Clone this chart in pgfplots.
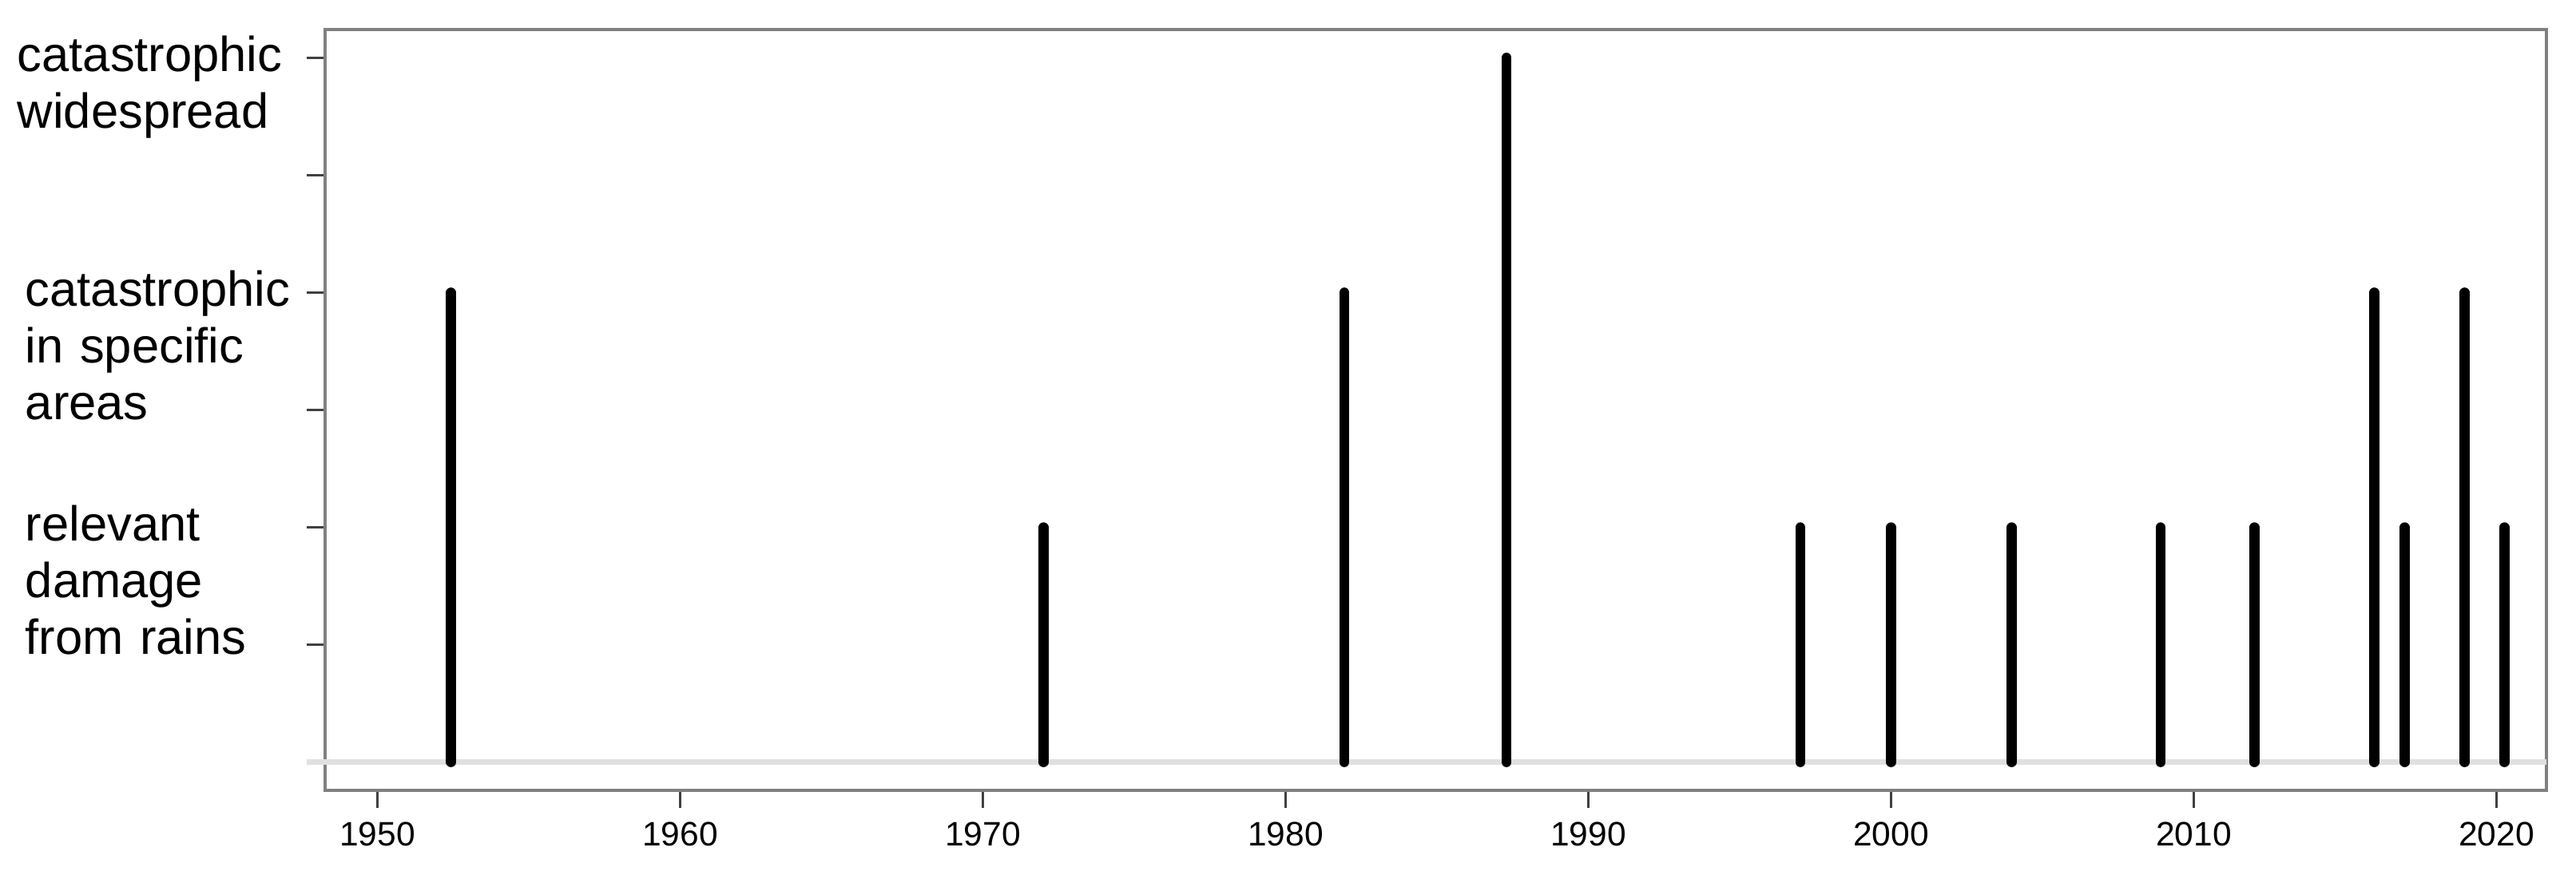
\documentclass[border=0pt]{standalone}
\usepackage{fontspec}
\setmainfont{Liberation Sans}
\usepackage{pgfplots}
\pgfplotsset{compat=1.18}
\begin{document}
\begin{tikzpicture}
\begin{axis}[
  name=ax,
  scale only axis,
  width=556.2pt, height=190.6pt,
  xmin=1948.27, xmax=2021.65,
  ymin=-0.12, ymax=3.12,
  clip=false,
  axis line style={draw=black!50, line width=0.9pt},
  tick align=outside,
  major tick length=4.5pt,
  tick style={draw=black!75, line width=0.6pt},
  xtick pos=left, ytick pos=left,
  xtick={1950,1960,...,2020},
  /pgf/number format/assume math mode=true,
  x tick label style={font=\fontsize{8.5}{10}\selectfont, /pgf/number format/1000 sep={}},
  ytick={0,0.5,1,1.5,2,2.5,3},
  yticklabels={,,{relevant\\damage\\from rains},,{catastrophic\\in specific\\areas},,{\hspace*{-2pt}catastrophic\\\hspace*{-2pt}widespread}},
  y tick label style={font=\fontsize{12.3}{14.2}\selectfont, align=left, text width=67pt, anchor=north east, yshift=9pt},
]
\addplot[draw=black!12, line width=1.3pt, forget plot] coordinates {(1947.66,0) (2021.65,0)};
\addplot[ycomb, draw=black, line width=2.5pt, line cap=round, mark=none] coordinates {
(1952.43,2)
(1972.0,1)
(1981.94,2)
(1987.3,3)
(1997.0,1)
(2000.0,1)
(2003.98,1)
(2008.9,1)
(2012.0,1)
(2015.96,2)
(2016.97,1)
(2018.95,2)
(2020.26,1)
};
\end{axis}
\pgfresetboundingbox
\path[use as bounding box] ([xshift=-81.4pt,yshift=-20.2pt]ax.south west) rectangle ([xshift=7.4pt,yshift=7.4pt]ax.north east);
\end{tikzpicture}
\end{document}
